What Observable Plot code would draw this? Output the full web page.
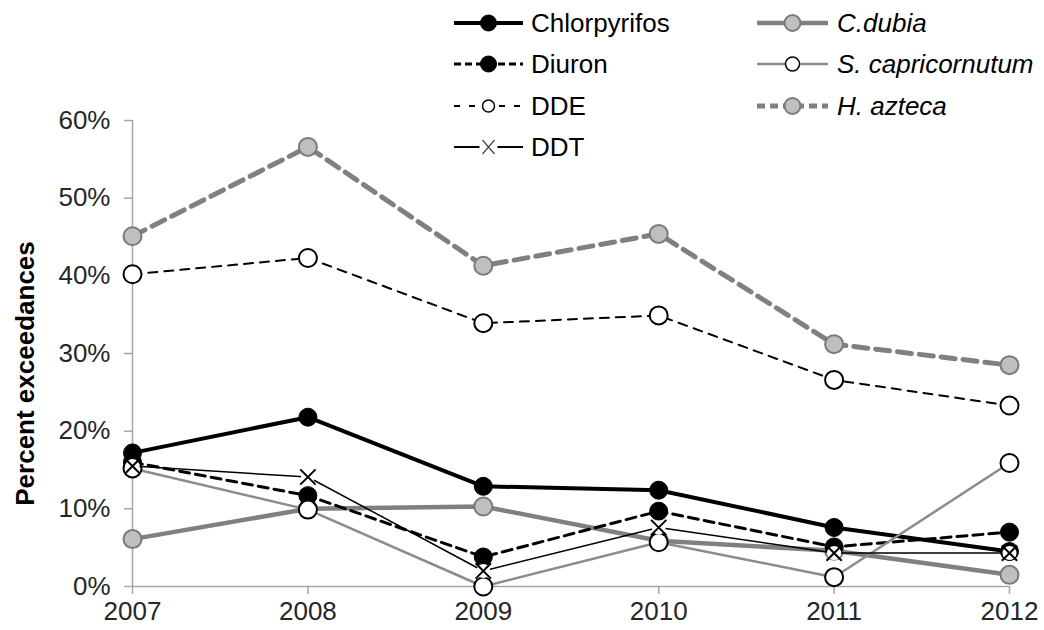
<!DOCTYPE html>
<html><head><meta charset="utf-8">
<script src="https://cdn.jsdelivr.net/npm/d3@7"></script>
<script src="https://cdn.jsdelivr.net/npm/@observablehq/plot@0.6"></script>
<style>
body{margin:0;background:#fff;font-family:"Liberation Sans",Arial,sans-serif}
#chart{width:1044px;height:630px}
</style>
</head><body><div id="chart"></div>
<script>
// ---- data (percent exceedances) ----
const years = [2007, 2008, 2009, 2010, 2011, 2012];
const yTicks = [0, 10, 20, 30, 40, 50, 60];
const chlorpyrifos = [17.2, 21.8, 12.9, 12.4, 7.6, 4.5];
const cDubia = [6.1, 10.0, 10.3, 5.9, 4.6, 1.5];
const diuron = [16.0, 11.7, 3.8, 9.7, 5.1, 7.0];
const sCapricornutum = [15.2, 9.9, 0.0, 5.7, 1.2, 15.9];
const dde = [40.2, 42.3, 33.9, 34.9, 26.6, 23.3];
const hAzteca = [45.1, 56.6, 41.3, 45.4, 31.2, 28.5];
const ddt = [15.5, 14.1, 2.0, 7.6, 4.3, 4.3];
const yLabel = "Percent exceedances";

// draw order (later on top)
const series = [
  {name: "Chlorpyrifos", values: chlorpyrifos},
  {name: "C.dubia", values: cDubia},
  {name: "Diuron", values: diuron},
  {name: "S. capricornutum", values: sCapricornutum},
  {name: "DDE", values: dde},
  {name: "H. azteca", values: hAzteca},
  {name: "DDT", values: ddt}
];
const GRAY = "#808080", LGRAY = "#bfbfbf", DGRAY = "#7a7a7a";
const styles = {
  "Chlorpyrifos": {stroke: "#000", width: 4, dash: null, sym: "circle", fill: "#000", dstroke: "#000", dsw: 1},
  "C.dubia": {stroke: GRAY, width: 4.5, dash: null, sym: "circle", fill: LGRAY, dstroke: DGRAY, dsw: 2},
  "Diuron": {stroke: "#000", width: 3, dash: "10,6", sym: "circle", fill: "#000", dstroke: "#000", dsw: 1},
  "S. capricornutum": {stroke: "#8c8c8c", width: 2.5, dash: null, sym: "circle", fill: "#fff", dstroke: "#000", dsw: 2},
  "DDE": {stroke: "#000", width: 2, dash: "9,7", sym: "circle", fill: "#fff", dstroke: "#000", dsw: 2},
  "H. azteca": {stroke: GRAY, width: 5, dash: "14,8", sym: "circle", fill: LGRAY, dstroke: DGRAY, dsw: 2},
  "DDT": {stroke: "#000", width: 1.5, dash: null, sym: "times", fill: "none", dstroke: "#000", dsw: 2}
};

const marks = [
  Plot.ruleY([0], {stroke: "#a6a6a6", strokeWidth: 1.5}),
  Plot.ruleX([years[0]], {stroke: "#a6a6a6", strokeWidth: 1.5}),
  Plot.axisX({ticks: years, tickFormat: d => String(d), tickSize: 8, tickPadding: 7, label: null}),
  Plot.axisY({ticks: yTicks.map(t => t / 100), tickFormat: d => Math.round(d * 100) + "%", tickSize: 8, tickPadding: 14, label: null}),
  Plot.text([yLabel], {text: d => d, frameAnchor: "left", rotate: -90, dx: -99, dy: 20, fontWeight: "bold", fontSize: 26, lineAnchor: "bottom", textAnchor: "middle", fill: "#000"})
];
for (const s of series) {
  const st = styles[s.name];
  const rows = years.map((y, i) => ({year: y, value: s.values[i] / 100}));
  marks.push(Plot.line(rows, {x: "year", y: "value", stroke: st.stroke, strokeWidth: st.width, strokeDasharray: st.dash, strokeLinejoin: "round"}));
  if (st.sym === "times") {
    marks.push(Plot.dot(rows, {x: "year", y: "value", r: 7, fill: "#fff", stroke: "none"}));
    marks.push(Plot.dot(rows, {x: "year", y: "value", symbol: "times", r: 7, stroke: st.dstroke, strokeWidth: st.dsw}));
  } else {
    marks.push(Plot.dot(rows, {x: "year", y: "value", r: 9, fill: st.fill, stroke: st.dstroke, strokeWidth: st.dsw}));
  }
}

const chart = Plot.plot({
  width: 1044, height: 630,
  marginLeft: 132, marginRight: 35, marginTop: 120, marginBottom: 44,
  style: {fontFamily: '"Liberation Sans", Arial, sans-serif', fontSize: "26px", color: "#262626", background: "#fff"},
  x: {domain: [years[0], years[years.length - 1]]},
  y: {domain: [0, yTicks[yTicks.length - 1] / 100]},
  marks
});
document.getElementById("chart").appendChild(chart);

const svg = d3.select(chart);
svg.selectAll('g[aria-label="x-axis tick"], g[aria-label="y-axis tick"]').attr("stroke", "#a6a6a6").attr("stroke-width", 1.5);

// ---- legend ----
const leg = svg.append("g").attr("class", "legend").attr("text-anchor", "start");
const legendItems = [
  {name: "Chlorpyrifos", col: 0, row: 0, italic: false, r: 8},
  {name: "Diuron", col: 0, row: 1, italic: false, r: 8, dash: "7,4"},
  {name: "DDE", col: 0, row: 2, italic: false, r: 6, dash: "6,9"},
  {name: "DDT", col: 0, row: 3, italic: false},
  {name: "C.dubia", col: 1, row: 0, italic: true, r: 8},
  {name: "S. capricornutum", col: 1, row: 1, italic: true, r: 7},
  {name: "H. azteca", col: 1, row: 2, italic: true, r: 8, dash: "8,5"}
];
const colX = [[454, 523, 531], [757, 828, 837]];
const rowY = [23, 64, 106, 147];
for (const it of legendItems) {
  const st = styles[it.name];
  const [x0, x1, tx] = colX[it.col];
  const y = rowY[it.row];
  const cx = (x0 + x1) / 2;
  if (it.name === "DDT") {
    leg.append("line").attr("x1", x0).attr("x2", cx - 9).attr("y1", y).attr("y2", y).attr("stroke", "#000").attr("stroke-width", 2);
    leg.append("line").attr("x1", cx + 9).attr("x2", x1).attr("y1", y).attr("y2", y).attr("stroke", "#000").attr("stroke-width", 2);
    leg.append("path").attr("d", `M${cx-6},${y-7}L${cx+6},${y+7}M${cx-6},${y+7}L${cx+6},${y-7}`).attr("stroke", "#444").attr("stroke-width", 1.2).attr("fill", "none");
  } else {
    leg.append("line").attr("x1", x0).attr("x2", x1).attr("y1", y).attr("y2", y)
      .attr("stroke", st.stroke).attr("stroke-width", st.width).attr("stroke-dasharray", it.dash || null);
    leg.append("circle").attr("cx", cx).attr("cy", y).attr("r", it.r)
      .attr("fill", st.fill).attr("stroke", st.dstroke).attr("stroke-width", it.name === "DDE" || it.name === "S. capricornutum" ? 1.5 : st.dsw);
  }
  leg.append("text").attr("x", tx).attr("y", y).attr("dy", "0.36em")
    .attr("text-anchor", "start")
    .attr("font-size", 26).attr("fill", "#000")
    .attr("font-style", it.italic ? "italic" : null)
    .text(it.name);
}
</script>
</body></html>
